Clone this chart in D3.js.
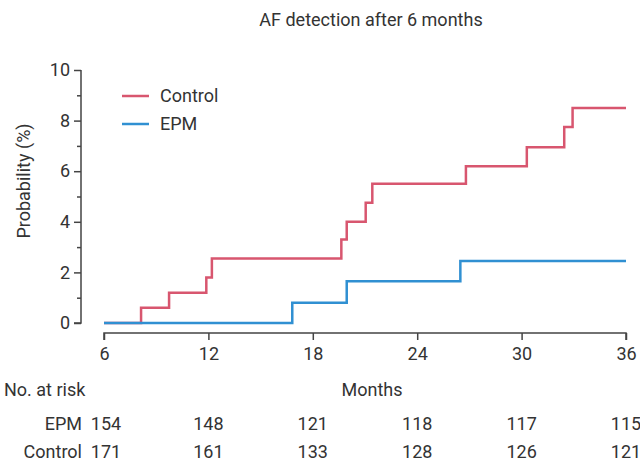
<!DOCTYPE html>
<html>
<head>
<meta charset="utf-8">
<script src="https://cdn.jsdelivr.net/npm/d3@7"></script>
<style>
  body { margin: 0; background: #fff; }
  text { font-family: "Roboto", sans-serif; fill: #333; }
</style>
</head>
<body>
<svg id="chart" width="640" height="463"></svg>
<script>
// step curves (month, cumulative %)
const controlMonths = [6, 8.13, 9.74, 11.88, 12.2, 19.64, 19.95, 21.04, 21.42, 26.8, 30.3, 32.45, 32.93, 36];
const controlProb = [0, 0.6, 1.2, 1.8, 2.55, 3.3, 4.0, 4.75, 5.5, 6.2, 6.95, 7.75, 8.5, 8.5];
const epmMonths = [6, 16.82, 19.95, 26.48, 36];
const epmProb = [0, 0.8, 1.65, 2.45, 2.45];

// number at risk table
const riskMonths = [6, 12, 18, 24, 30, 36];
const epmRisk = [154, 148, 121, 118, 117, 115];
const controlRisk = [171, 161, 133, 128, 126, 121];

const colControl = '#d8566f';
const colEPM = '#3090d2';
const fs = '18px';

const svg = d3.select('#chart');

const x = d3.scaleLinear().domain([6, 36]).range([104, 626]);
const y = d3.scaleLinear().domain([0, 10]).range([323, 70]);

svg.append('text')
  .attr('x', 371).attr('y', 26)
  .attr('text-anchor', 'middle')
  .style('font-size', fs)
  .text('AF detection after 6 months');

// y axis: major ticks every 2, minor in between
const yAxis = svg.append('g')
  .attr('transform', 'translate(81,0)')
  .call(d3.axisLeft(y).tickValues(d3.range(0, 11, 1)).tickSize(7).tickPadding(4)
    .tickFormat(d => d % 2 === 0 ? d : ''));
yAxis.selectAll('.tick').filter(d => d % 2 !== 0).select('line').attr('x2', -4);
yAxis.select('.domain').attr('d', `M-0,${y(10)}H0V${y(0)}H-7`);

// x axis below, ticks pointing down
const xAxis = svg.append('g')
  .attr('transform', 'translate(0,333)')
  .call(d3.axisBottom(x).tickValues(riskMonths).tickSize(7).tickPadding(7));
xAxis.select('.domain').attr('d', `M${x(6)},7V0H${x(36)}V7`);

svg.selectAll('.domain, .tick line').attr('stroke', '#444').attr('stroke-width', 1.5);
svg.selectAll('.tick text').style('font-size', fs).attr('fill', '#333');

svg.append('text')
  .attr('transform', 'translate(30,181) rotate(-90)')
  .attr('text-anchor', 'middle')
  .style('font-size', fs)
  .text('Probability (%)');

const line = d3.line()
  .x(d => x(d[0]))
  .y(d => y(d[1]))
  .curve(d3.curveStepAfter);

svg.append('path')
  .datum(d3.zip(controlMonths, controlProb))
  .attr('fill', 'none').attr('stroke', colControl).attr('stroke-width', 2.5)
  .attr('d', line);

svg.append('path')
  .datum(d3.zip(epmMonths, epmProb))
  .attr('fill', 'none').attr('stroke', colEPM).attr('stroke-width', 2.5)
  .attr('d', line);

// legend
const legend = [['Control', colControl], ['EPM', colEPM]];
legend.forEach((l, i) => {
  const ly = 96 + i * 28;
  svg.append('line')
    .attr('x1', 122).attr('x2', 149).attr('y1', ly).attr('y2', ly)
    .attr('stroke', l[1]).attr('stroke-width', 2.5);
  svg.append('text')
    .attr('x', 160).attr('y', ly).attr('dy', '0.35em')
    .style('font-size', fs)
    .text(l[0]);
});

svg.append('text')
  .attr('x', 4).attr('y', 396)
  .style('font-size', fs)
  .text('No. at risk');
svg.append('text')
  .attr('x', 372).attr('y', 396)
  .attr('text-anchor', 'middle')
  .style('font-size', fs)
  .text('Months');

const rows = [['EPM', epmRisk, 430], ['Control', controlRisk, 458]];
rows.forEach(r => {
  svg.append('text')
    .attr('x', 82).attr('y', r[2])
    .attr('text-anchor', 'end')
    .style('font-size', fs)
    .text(r[0]);
  svg.selectAll(null)
    .data(r[1])
    .join('text')
      .attr('x', (d, i) => x(riskMonths[i]) + (i === 0 ? 2 : 0))
      .attr('y', r[2])
      .attr('text-anchor', 'middle')
      .style('font-size', fs)
      .text(d => d);
});
</script>
</body>
</html>
